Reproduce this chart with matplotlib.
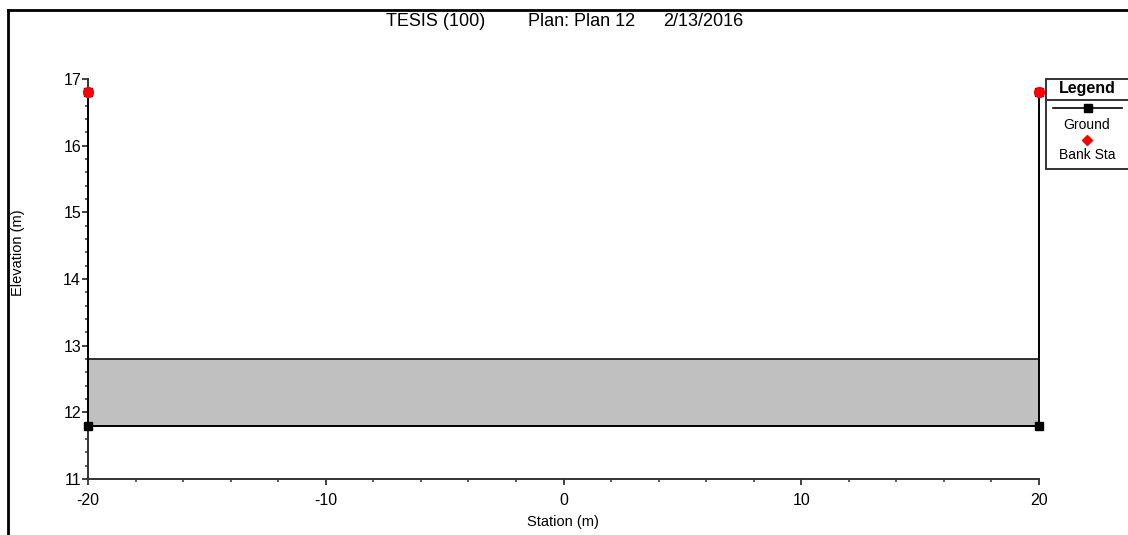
import matplotlib
matplotlib.use("Agg")
import matplotlib.pyplot as plt
from matplotlib.lines import Line2D
from matplotlib.patches import Rectangle
from matplotlib.ticker import MultipleLocator

plt.rcParams['font.family'] = ['Liberation Sans', 'DejaVu Sans']
plt.rcParams['axes.unicode_minus'] = False

# cross-section data
ground_sta = [-20, -20, 20, 20]
ground_elev = [16.8, 11.8, 11.8, 16.8]
bank_sta = [-20, 20]
bank_elev = [16.8, 16.8]
deck_sta = [-20, 20]
deck_low = [11.8, 11.8]
deck_high = [12.8, 12.8]

title_parts = ['TESIS (100)', 'Plan: Plan 12', '2/13/2016']

W, H = 1128, 535
fig = plt.figure(figsize=(W / 100, H / 100), dpi=100)

def px(x0, y0, x1, y1):
    # pixel box (top-left origin) -> figure fraction rect
    return [x0 / W, 1 - y1 / H, (x1 - x0) / W, (y1 - y0) / H]

ax = fig.add_axes(px(88, 79, 1039, 479))
ax.set_xlim(-20, 20)
ax.set_ylim(11, 17)

ax.fill_between(deck_sta, deck_low, deck_high, facecolor='#c0c0c0',
                edgecolor='none', zorder=1)
ax.plot(deck_sta, deck_high, color='#222222', lw=1.3, zorder=2)
ax.plot(deck_sta, deck_low, color='#555555', lw=1.3, zorder=2)
ax.plot(ground_sta, ground_elev, color='black', lw=1.4, marker='s',
        markersize=5.5, zorder=3, clip_on=False)
ax.plot(bank_sta, bank_elev, linestyle='none', marker='o', color='red',
        markersize=7, zorder=4, clip_on=False)

for s in ['top', 'right']:
    ax.spines[s].set_visible(False)
for s in ['left', 'bottom']:
    ax.spines[s].set_linewidth(1.4)
    ax.spines[s].set_color('#333333')

ax.xaxis.set_major_locator(MultipleLocator(10))
ax.xaxis.set_minor_locator(MultipleLocator(2))
ax.yaxis.set_major_locator(MultipleLocator(1))
ax.yaxis.set_minor_locator(MultipleLocator(0.2))
ax.tick_params(which='major', length=4, width=1.3, color='#333333',
               labelsize=11.5)
ax.tick_params(which='minor', length=2.5, width=1.1, color='#333333')
ax.tick_params(axis='x', which='major', pad=6)
ax.tick_params(axis='y', which='major', pad=1)

fig.text(18 / W, 1 - 253 / H, 'Elevation (m)', rotation=90, ha='center',
         va='center', fontsize=10.5)
fig.text(563 / W, 1 - 522 / H, 'Station (m)', ha='center', va='center',
         fontsize=10.5)

for txt, x in zip(title_parts, [386, 528, 663]):
    fig.text(x / W, 1 - 22 / H, txt, ha='left', va='center', fontsize=13)

# frame lines along the top and left
fig.add_artist(Line2D([8 / W, 1], [1 - 10 / H, 1 - 10 / H], color='black',
                      lw=2, transform=fig.transFigure))
fig.add_artist(Line2D([8 / W, 8 / W], [1 - 10 / H, 0], color='black',
                      lw=2, transform=fig.transFigure))

# legend panel
lg = fig.add_axes(px(1045, 78, 1130, 169))
lg.set_xlim(1045, 1130)
lg.set_ylim(169, 78)
lg.axis('off')
lg.add_patch(Rectangle((1045.5, 78.5), 84, 90, facecolor='white',
                       edgecolor='#333333', lw=1.4, clip_on=False))
lg.plot([1045.5, 1130], [99.5, 99.5], color='#333333', lw=1.4)
lg.text(1087, 88, 'Legend', ha='center', va='center', fontsize=11.5,
        fontweight='bold')
lg.plot([1053, 1122], [108, 108], color='black', lw=1.2)
lg.plot([1088], [108], marker='s', color='black', markersize=5.5)
lg.text(1087, 125, 'Ground', ha='center', va='center', fontsize=10)
lg.plot([1087], [140], marker='D', color='red', markersize=5)
lg.text(1087, 155, 'Bank Sta', ha='center', va='center', fontsize=10)

fig.savefig('out.png', dpi=100, facecolor='white')
